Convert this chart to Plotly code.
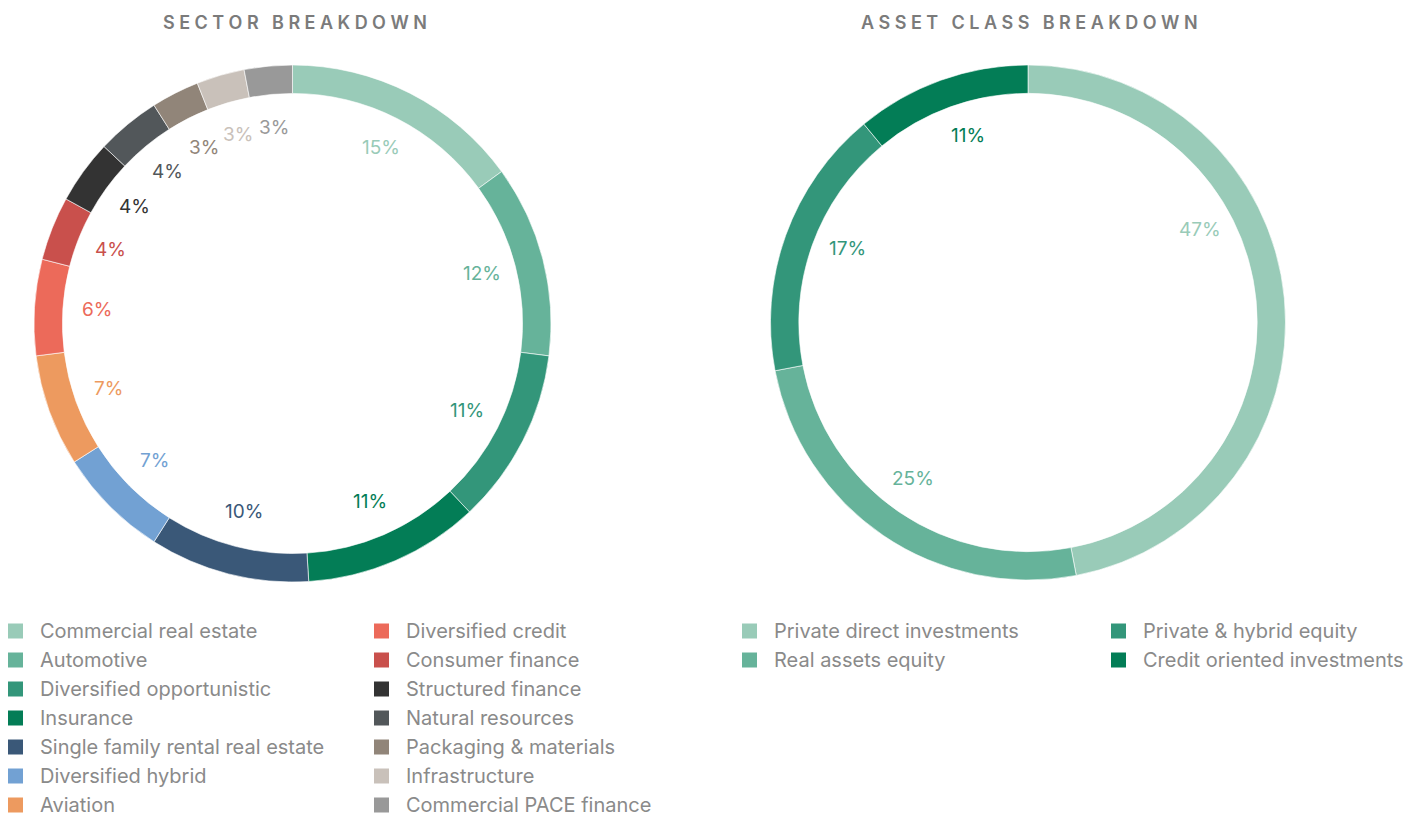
import math
import plotly.graph_objects as go

OFF = 8  # browser body margin
W, H = 1421 - OFF, 817 - OFF

# ---- data ----
sector_labels = ["Commercial real estate", "Automotive", "Diversified opportunistic", "Insurance",
                 "Single family rental real estate", "Diversified hybrid", "Aviation",
                 "Diversified credit", "Consumer finance", "Structured finance", "Natural resources",
                 "Packaging & materials", "Infrastructure", "Commercial PACE finance"]
sector_values = [15, 12, 11, 11, 10, 7, 7, 6, 4, 4, 4, 3, 3, 3]
sector_colors = ["#99cbb8", "#66b39a", "#33967a", "#037d56", "#3a5878", "#72a1d3", "#ed9a5f",
                 "#ec6a5a", "#c9504c", "#333333", "#52575a", "#918579", "#c9c1ba", "#999999"]

asset_labels = ["Private direct investments", "Real assets equity", "Private & hybrid equity",
                "Credit oriented investments"]
asset_values = [47, 25, 17, 11]
asset_colors = ["#99cbb8", "#66b39a", "#33967a", "#037d56"]

FONT = "Inter"
TEXT_GRAY = "#8a8a8a"
TITLE_GRAY = "#7b7b7b"

fig = go.Figure()
annotations = []
shapes = []


def px_x(x):
    return (x - OFF) / W


def px_y(y):
    return 1 - (y - OFF) / H


def add_donut(labels, values, colors, cx, cy, r, title, title_x, angle_shift=0.0, angle_override=None):
    fig.add_trace(go.Pie(
        labels=labels, values=values, sort=False, direction="clockwise", rotation=0,
        hole=0.89, marker=dict(colors=colors, line=dict(color="white", width=0.6)),
        textinfo="none", hoverinfo="label+percent", showlegend=False,
        domain=dict(x=[px_x(cx - r), px_x(cx + r)], y=[px_y(cy + r), px_y(cy - r)]),
    ))
    angle_override = angle_override or {}
    total = sum(values)
    cum = 0
    lr = r * 0.757
    for i, (v, c) in enumerate(zip(values, colors)):
        mid_deg = (cum + v / 2) / total * 360 + angle_shift
        cum += v
        mid_deg = angle_override.get(i, mid_deg)
        mid = math.radians(mid_deg)
        x = cx + lr * math.sin(mid)
        y = cy - 1.5 - lr * math.cos(mid)
        annotations.append(dict(
            x=px_x(x), y=px_y(y), xref="paper", yref="paper", showarrow=False,
            text=f"{round(v / total * 100)}%", font=dict(family=FONT, size=19, color=c),
            xanchor="center", yanchor="middle"))
    sp = "\u2009\u200a"
    spaced = sp.join(list(title)).replace(sp + " " + sp, sp * 3)
    annotations.append(dict(
        x=px_x(title_x), y=px_y(22), xref="paper", yref="paper", showarrow=False,
        text=spaced,
        font=dict(family=FONT, size=18, color=TITLE_GRAY, weight=600),
        xanchor="center", yanchor="middle"))


def add_legend(labels, colors, col_x, rows_per_col, y0, dy):
    for i, (lab, col) in enumerate(zip(labels, colors)):
        c = i // rows_per_col
        rw = i % rows_per_col
        sx = col_x[c]
        y = y0 + rw * dy
        shapes.append(dict(type="rect", xref="paper", yref="paper",
                           x0=px_x(sx), x1=px_x(sx + 15), y0=px_y(y + 7.5), y1=px_y(y - 7.5),
                           fillcolor=col, line=dict(width=0)))
        annotations.append(dict(
            x=px_x(sx + 31), y=px_y(y), xref="paper", yref="paper", showarrow=False,
            text=lab, font=dict(family=FONT, size=20, color=TEXT_GRAY),
            xanchor="left", yanchor="middle", borderpad=0))


add_donut(sector_labels, sector_values, sector_colors, 292.5, 323.5, 258.5, "SECTOR BREAKDOWN", 295)
add_donut(asset_labels, asset_values, asset_colors, 1028, 322.5, 257.5, "ASSET CLASS BREAKDOWN", 1029,
          angle_shift=2.0, angle_override={0: 62.0})
add_legend(sector_labels, sector_colors, [8, 374], 7, 631, 29.0)
add_legend(asset_labels, asset_colors, [742, 1111], 2, 631, 29.0)

fig.update_layout(
    width=W, height=H, margin=dict(l=0, r=0, t=0, b=0),
    paper_bgcolor="white", plot_bgcolor="white",
    annotations=annotations, shapes=shapes,
    font=dict(family=FONT),
)

fig.write_html("out.html")
